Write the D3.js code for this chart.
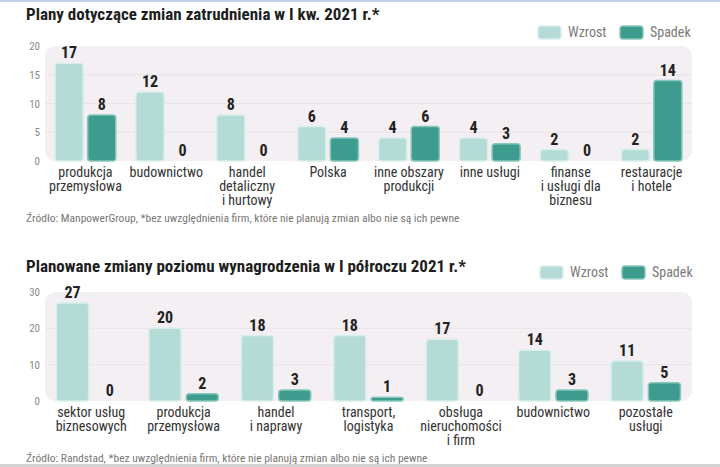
<!DOCTYPE html>
<html>
<head>
<meta charset="utf-8">
<script src="https://cdn.jsdelivr.net/npm/d3@7"></script>
<style>
  body { margin: 0; background: #fff; }
  text { font-family: "Roboto Condensed", "DejaVu Sans Condensed", "Liberation Sans Narrow", Roboto, sans-serif; }
</style>
</head>
<body>
<svg id="chart" width="720" height="467"></svg>
<script>
// chart 1: employment plans
const cats1 = ["produkcja\nprzemysłowa", "budownictwo", "handel\ndetaliczny\ni hurtowy", "Polska",
    "inne obszary\nprodukcji", "inne usługi", "finanse\ni usługi dla\nbiznesu", "restauracje\ni hotele"];
const wzrost1 = [17, 12, 8, 6, 4, 4, 2, 2];
const spadek1 = [8, 0, 0, 4, 6, 3, 0, 14];
const ticks1 = [0, 5, 10, 15, 20];

// chart 2: salary plans
const cats2 = ["sektor usług\nbiznesowych", "produkcja\nprzemysłowa", "handel\ni naprawy", "transport,\nlogistyka",
    "obsługa\nnieruchomości\ni firm", "budownictwo", "pozostałe\nusługi"];
const wzrost2 = [27, 20, 18, 18, 17, 14, 11];
const spadek2 = [0, 2, 3, 1, 0, 3, 5];
const ticks2 = [0, 10, 20, 30];

const seriesNames = ["Wzrost", "Spadek"];
const fills = ["#b4dbd6", "#3d9c8d"];
const strokes = ["#d8eeeb", "#86c6bb"];

const svg = d3.select("#chart");

// frame lines
svg.append("rect").attr("x", 0).attr("y", 0).attr("width", 720).attr("height", 2).attr("fill", "#c5d0ea");
svg.append("rect").attr("x", 0).attr("y", 464).attr("width", 720).attr("height", 3).attr("fill", "#d2d2d2");

function drawChart(opt) {
    const g = svg.append("g");
    const x = d3.scaleBand()
        .domain(d3.range(opt.cats.length))
        .range([45, 692])
        .paddingInner(0.25)
        .paddingOuter(0.125);
    const xs = d3.scaleBand()
        .domain([0, 1])
        .range([0, x.bandwidth()])
        .paddingInner(0.14);
    const y = d3.scaleLinear()
        .domain([0, opt.max])
        .range([opt.base, opt.top]);

    // title
    g.append("text")
        .attr("x", 26).attr("y", opt.titleY)
        .attr("font-size", 17).attr("font-weight", "bold").attr("fill", "#1e1e1e")
        .text(opt.title);

    // legend
    seriesNames.forEach((s, i) => {
        const lx = opt.legendX[i];
        g.append("rect")
            .attr("x", lx).attr("y", opt.legendY - 11)
            .attr("width", 23).attr("height", 13).attr("rx", 3)
            .attr("fill", fills[i]).attr("stroke", strokes[i]).attr("stroke-width", 1.5);
        g.append("text")
            .attr("x", lx + 30).attr("y", opt.legendY)
            .attr("font-size", 14).attr("fill", "#7a7a7a")
            .text(s);
    });

    // plot background
    g.append("rect")
        .attr("x", 45).attr("y", y(opt.max))
        .attr("width", 647).attr("height", y(0) - y(opt.max))
        .attr("rx", 10)
        .attr("fill", "#f4eff3");

    g.selectAll("line.grid")
        .data(opt.ticks.filter(t => t > 0 && t < opt.max))
        .enter()
        .append("line")
        .attr("class", "grid")
        .attr("x1", 45).attr("x2", 692)
        .attr("y1", d => y(d)).attr("y2", d => y(d))
        .attr("stroke", "#e9e3e8").attr("stroke-width", 1);

    // y ticks
    g.selectAll("text.ytick")
        .data(opt.ticks)
        .enter()
        .append("text")
        .attr("class", "ytick")
        .attr("x", 40).attr("y", d => y(d) + 4)
        .attr("text-anchor", "end")
        .attr("font-size", 11).attr("fill", "#8a8a8a")
        .text(d => d);

    const rows = opt.cats.map((c, i) => ({ i, vals: [opt.wzrost[i], opt.spadek[i]] }));
    const grp = g.selectAll("g.group")
        .data(rows)
        .enter()
        .append("g")
        .attr("class", "group")
        .attr("transform", d => `translate(${x(d.i)},0)`);

    grp.selectAll("rect.bar")
        .data(d => d.vals.map((v, k) => ({ v, k })).filter(e => e.v > 0))
        .enter()
        .append("rect")
        .attr("class", "bar")
        .attr("x", d => xs(d.k))
        .attr("y", d => y(d.v))
        .attr("width", xs.bandwidth())
        .attr("height", d => y(0) - y(d.v))
        .attr("rx", 3)
        .attr("fill", d => fills[d.k])
        .attr("stroke", d => strokes[d.k])
        .attr("stroke-width", 1.5);

    grp.selectAll("text.val")
        .data(d => d.vals.map((v, k) => ({ v, k })))
        .enter()
        .append("text")
        .attr("class", "val")
        .attr("x", d => xs(d.k) + xs.bandwidth() / 2)
        .attr("y", d => y(d.v) - 5)
        .attr("text-anchor", "middle")
        .attr("font-size", 16).attr("font-weight", "bold").attr("fill", "#222")
        .text(d => d.v);

    // category labels
    grp.append("text")
        .attr("text-anchor", "middle")
        .attr("font-size", 14).attr("fill", "#333")
        .attr("x", x.bandwidth() / 2)
        .selectAll("tspan")
        .data(d => opt.cats[d.i].split("\n"))
        .enter()
        .append("tspan")
        .attr("x", x.bandwidth() / 2)
        .attr("y", (d, j) => opt.base + 16 + j * 13.8)
        .text(d => d);

    g.append("text")
        .attr("x", 26).attr("y", opt.sourceY)
        .attr("font-size", 11.5).attr("fill", "#777")
        .text(opt.source);
}

drawChart({
    title: "Plany dotyczące zmian zatrudnienia w I kw. 2021 r.*",
    titleY: 20,
    legendX: [538, 620], legendY: 37,
    cats: cats1, wzrost: wzrost1, spadek: spadek1, ticks: ticks1,
    max: 20, base: 161, top: 46,
    source: "Źródło: ManpowerGroup, *bez uwzględnienia firm, które nie planują zmian albo nie są ich pewne",
    sourceY: 222
});

drawChart({
    title: "Planowane zmiany poziomu wynagrodzenia w I półroczu 2021 r.*",
    titleY: 272,
    legendX: [540, 622], legendY: 277,
    cats: cats2, wzrost: wzrost2, spadek: spadek2, ticks: ticks2,
    max: 30, base: 401, top: 292,
    source: "Źródło: Randstad, *bez uwzględnienia firm, które nie planują zmian albo nie są ich pewne",
    sourceY: 462
});
</script>
</body>
</html>
